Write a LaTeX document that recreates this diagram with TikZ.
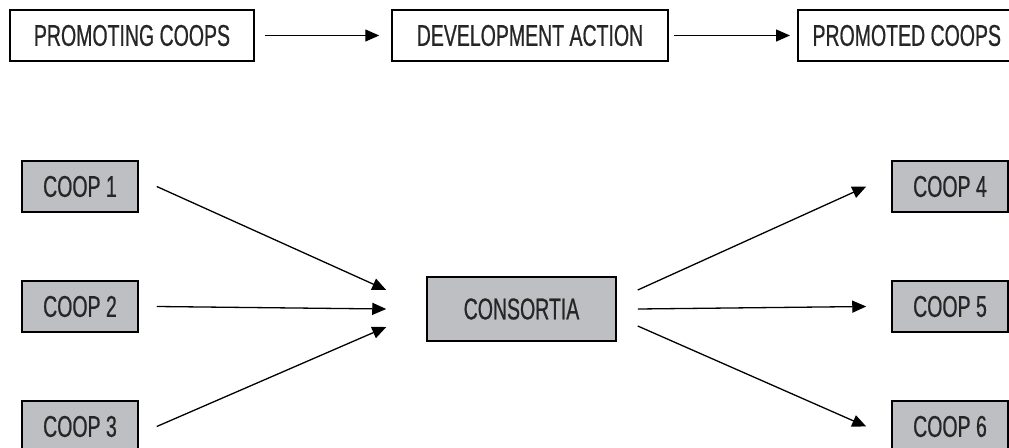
\documentclass[tikz,border=0pt]{standalone}
\usepackage{fontspec}
\setmainfont{Liberation Sans}[FakeStretch=0.65,FakeBold=0.6]
\usetikzlibrary{arrows.meta}
\definecolor{coopgray}{RGB}{190,191,194}

\begin{document}
\begin{tikzpicture}[x=1pt,y=-1pt,
    box/.style={draw,line width=1.5pt,minimum height=51pt,inner sep=0pt,
      font=\fontsize{30}{32}\selectfont,text=black!85},
    coop/.style={box,fill=coopgray,minimum width=116pt},
    flow/.style={line width=1.3pt,-{Triangle[length=14pt,width=12pt]}}]
      \useasboundingbox (0,0) rectangle (1009,447);
      \clip (0,0) rectangle (1009,447);
      % top row
      \node[box,minimum width=244pt] (promoting) at (132,35.5) {PROMOTING COOPS};
      \node[box,minimum width=276pt] (action) at (530,35.5) {DEVELOPMENT ACTION};
      \node[box,minimum width=218pt,anchor=west] (promoted) at (797,35.5) {PROMOTED COOPS};
      \draw[flow,shorten <=10pt,shorten >=12pt] (promoting) -- (action);
      \draw[flow,shorten <=5pt,shorten >=7pt] (action) -- (promoted);
      % coops and consortia
      \foreach \i/\y in {1/186.5,2/306.5,3/426.5}
      \node[coop] (coop\i) at (80,\y) {COOP \i};
      \foreach \i/\y in {4/186.5,5/306.5,6/426.5}
      \node[coop] (coop\i) at (950,\y) {COOP \i};
      \node[coop,minimum width=189pt,minimum height=64pt] (consortia) at (521.5,309) {CONSORTIA};
      \foreach \i/\dy in {1/-19,2/0,3/18}
      \draw[flow] ([xshift=18pt]coop\i.east) -- ([shift={(-40,\dy)}]consortia.west);
      \foreach \i/\dy in {4/-19,5/0,6/17}
      \draw[flow] ([shift={(21,\dy)}]consortia.east) -- ([xshift=-25pt]coop\i.west);
    \end{tikzpicture}
\end{document}
